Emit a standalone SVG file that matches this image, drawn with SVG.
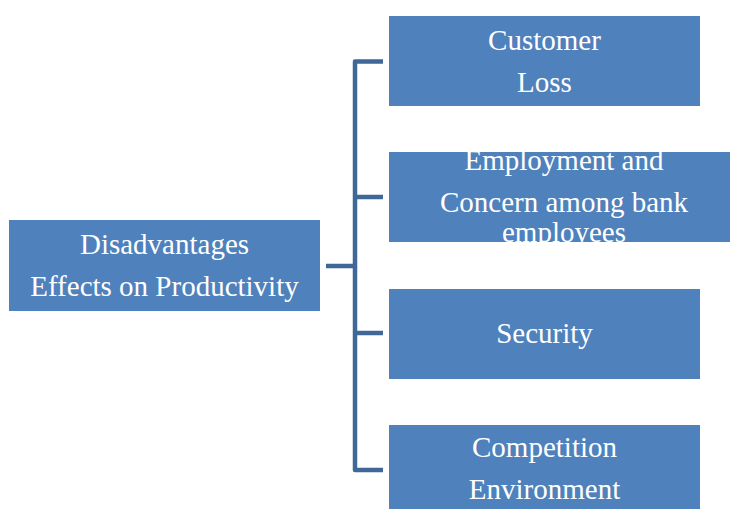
<svg xmlns="http://www.w3.org/2000/svg" width="730" height="509" viewBox="0 0 730 509">
<style>
.box{fill:#4F81BD;}
.t{font-family:'Liberation Serif','Times New Roman',Times,serif;font-size:29px;fill:#FFFFFF;text-anchor:middle;}
.c{stroke:#3F6797;stroke-width:4.5;fill:none;stroke-linejoin:round;}
</style>
<defs>
<clipPath id="clip2"><rect x="389" y="152" width="341" height="90"/></clipPath>
</defs>
<rect width="730" height="509" fill="#FFFFFF"/>
<g id="connectors">
<path class="c" d="M383 61.5 H355 V470 H383"/>
<path class="c" d="M355 197 H383"/>
<path class="c" d="M355 333 H383"/>
<path class="c" d="M326 266 H355"/>
</g>
<g id="root">
<rect class="box" x="9" y="220" width="311" height="91"/>
<text class="t" x="164.5" y="254">Disadvantages</text>
<text class="t" x="164.5" y="296">Effects on Productivity</text>
</g>
<g id="customer">
<rect class="box" x="389" y="16" width="311" height="90"/>
<text class="t" x="544.5" y="50">Customer</text>
<text class="t" x="544.5" y="92">Loss</text>
</g>
<g id="employment">
<rect class="box" x="389" y="152" width="341" height="90"/>
<g clip-path="url(#clip2)">
<text class="t" x="564" y="170">Employment and</text>
<text class="t" x="564" y="212">Concern among bank</text>
<text class="t" x="564" y="242">employees</text>
</g>
</g>
<g id="security">
<rect class="box" x="389" y="289" width="311" height="90"/>
<text class="t" x="544.5" y="343">Security</text>
</g>
<g id="competition">
<rect class="box" x="389" y="425" width="311" height="84"/>
<text class="t" x="544.5" y="457">Competition</text>
<text class="t" x="544.5" y="499">Environment</text>
</g>
</svg>
